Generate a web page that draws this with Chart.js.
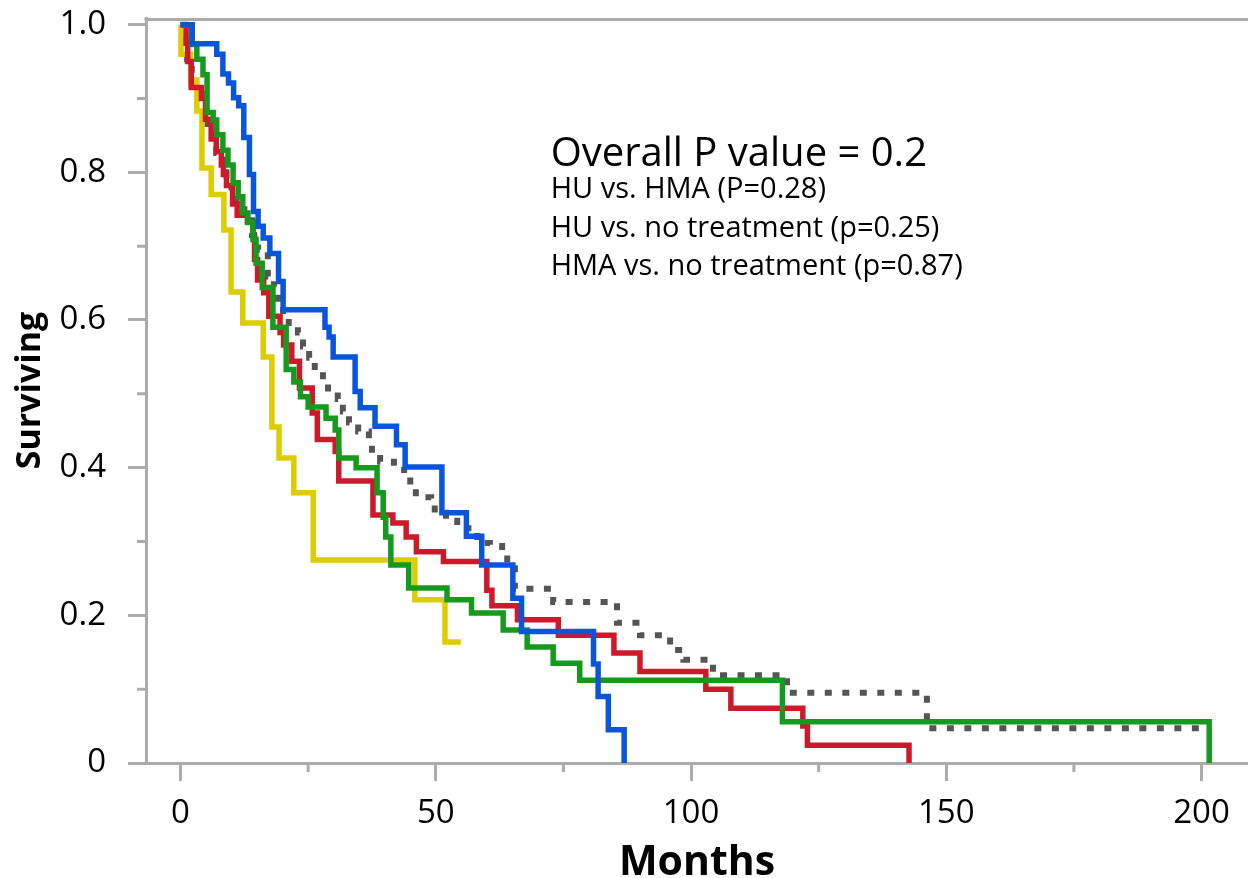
<!DOCTYPE html>
<html>
<head>
<meta charset="utf-8">
<title>Surviving vs Months</title>
<script src="https://cdn.jsdelivr.net/npm/chart.js@4.4.0/dist/chart.umd.min.js"></script>
<style>
    html, body { margin: 0; padding: 0; background: #fff; }
    canvas { display: block; }
</style>
</head>
<body>
<canvas id="km" width="1248" height="878"></canvas>
<script>
// courbes de survie (mois, proportion survivante)
const blueMonths = [0, 2.3, 7.1, 8.3, 9.4, 10.4, 11.4, 12.4, 13.5, 14.3, 15.2, 16.2, 17.5, 19.2, 20.1, 28.3, 29.1, 29.9, 34.2, 35.2, 38.1, 42.3, 44.0, 51.2, 56.0, 59.0, 65.1, 66.8, 80.9, 81.8, 83.8, 86.9];
const blueSurv = [1.0, 0.974, 0.96, 0.933, 0.921, 0.901, 0.89, 0.847, 0.797, 0.747, 0.727, 0.711, 0.69, 0.652, 0.614, 0.59, 0.577, 0.55, 0.503, 0.481, 0.456, 0.431, 0.401, 0.339, 0.307, 0.268, 0.223, 0.178, 0.134, 0.09, 0.045, 0];

const redMonths = [0, 1.1, 1.4, 2.1, 4.1, 4.9, 6.0, 7.0, 8.0, 8.4, 9.0, 10.2, 11.1, 13.1, 14.2, 14.5, 15.1, 16.3, 17.3, 19.5, 20.2, 21.8, 23.3, 25.8, 26.8, 30.3, 31.0, 37.7, 41.6, 44.2, 46.2, 51.5, 60.0, 61.0, 66.0, 74.0, 84.9, 90.0, 102.9, 107.8, 121.9, 122.8, 142.7];
const redSurv = [1.0, 0.975, 0.95, 0.915, 0.90, 0.872, 0.845, 0.828, 0.81, 0.797, 0.782, 0.757, 0.742, 0.733, 0.713, 0.682, 0.654, 0.637, 0.605, 0.583, 0.566, 0.544, 0.508, 0.474, 0.438, 0.422, 0.382, 0.336, 0.325, 0.306, 0.286, 0.273, 0.234, 0.213, 0.194, 0.173, 0.149, 0.124, 0.10, 0.074, 0.05, 0.024, 0];

const greenMonths = [0, 2.2, 3.2, 4.4, 5.2, 6.4, 7.1, 8.3, 9.3, 10.3, 11.3, 12.2, 13.2, 14.2, 14.8, 16.0, 18.1, 20.7, 22.2, 23.5, 25.0, 28.5, 30.3, 31.0, 34.4, 38.5, 39.7, 40.2, 41.2, 44.7, 52.2, 57.0, 63.2, 67.9, 73.0, 78.2, 117.9, 201.5];
const greenSurv = [1.0, 0.973, 0.953, 0.932, 0.881, 0.871, 0.851, 0.83, 0.81, 0.786, 0.767, 0.745, 0.732, 0.709, 0.677, 0.644, 0.59, 0.533, 0.516, 0.496, 0.482, 0.467, 0.451, 0.413, 0.40, 0.366, 0.333, 0.306, 0.268, 0.237, 0.221, 0.203, 0.18, 0.157, 0.135, 0.112, 0.056, 0];

const yellowMonths = [0, 0.1, 2.0, 3.2, 4.2, 6.0, 8.5, 9.9, 12.2, 16.2, 17.9, 19.3, 22.2, 26.0, 45.9, 51.8, 54.9];
const yellowSurv = [1.0, 0.96, 0.925, 0.883, 0.806, 0.77, 0.722, 0.638, 0.596, 0.55, 0.455, 0.413, 0.366, 0.275, 0.221, 0.164, 0.164];

const grayMonths = [0, 1.0, 1.3, 2.2, 4.2, 5.0, 5.3, 6.5, 7.0, 8.4, 9.0, 10.0, 11.0, 12.5, 14.0, 15.2, 17.1, 18.3, 19.1, 20.1, 21.2, 23.0, 24.0, 25.2, 26.3, 27.9, 28.9, 30.8, 31.8, 33.0, 34.8, 36.9, 37.5, 39.1, 41.8, 43.8, 45.0, 46.1, 49.1, 49.8, 52.0, 54.2, 58.1, 60.6, 63.0, 64.0, 65.5, 73.0, 85.5, 90.0, 95.9, 98.5, 104.3, 118.8, 146.2, 200.4];
const graySurv = [1.0, 0.975, 0.953, 0.92, 0.90, 0.87, 0.86, 0.84, 0.826, 0.80, 0.79, 0.77, 0.75, 0.735, 0.715, 0.695, 0.659, 0.645, 0.623, 0.607, 0.591, 0.583, 0.564, 0.549, 0.53, 0.519, 0.503, 0.493, 0.476, 0.461, 0.449, 0.438, 0.42, 0.408, 0.401, 0.39, 0.377, 0.36, 0.356, 0.339, 0.328, 0.318, 0.298, 0.294, 0.286, 0.271, 0.236, 0.218, 0.19, 0.173, 0.153, 0.14, 0.119, 0.095, 0.047, 0.047];

// graduations
const xTicks = [0, 50, 100, 150, 200];
const xMinorTicks = [25, 75, 125, 175];
const yTicks = [0, 0.2, 0.4, 0.6, 0.8, 1.0];
const yMinorTicks = [0.1, 0.3, 0.5, 0.7, 0.9];

const statTitle = 'Overall P value = 0.2';
const statLines = ['HU vs. HMA (P=0.28)', 'HU vs. no treatment (p=0.25)', 'HMA vs. no treatment (p=0.87)'];

const AXIS_COLOR = '#ababab';
const FONT = '"Open Sans", "Noto Sans", sans-serif';

const toPoints = (months, surv) => months.map((m, i) => ({ x: m, y: surv[i] }));

const makeDataset = (label, months, surv, color, dash) => ({
    label,
    data: toPoints(months, surv),
    borderColor: color,
    borderWidth: dash ? 6 : 5.5,
    borderDash: dash || [],
    borderCapStyle: 'butt',
    borderJoinStyle: 'miter',
    stepped: 'before',
    pointRadius: 0,
    fill: false
});

/**
 * petites graduations + bord du haut
 */
const minorTicksPlugin = {
    id: 'minorTicks',
    afterDraw(chart) {
        const { ctx, chartArea, scales } = chart;
        ctx.save();
        ctx.strokeStyle = AXIS_COLOR;
        ctx.lineWidth = 3;
        ctx.beginPath();
        xMinorTicks.forEach(v => {
            const px = scales.x.getPixelForValue(v);
            ctx.moveTo(px, chartArea.bottom);
            ctx.lineTo(px, chartArea.bottom + 9);
        });
        yMinorTicks.forEach(v => {
            const py = scales.y.getPixelForValue(v);
            ctx.moveTo(chartArea.left, py);
            ctx.lineTo(chartArea.left - 9, py);
        });
        // cadre du haut
        ctx.moveTo(chartArea.left - 1.5, chartArea.top + 1.5);
        ctx.lineTo(chartArea.right, chartArea.top + 1.5);
        ctx.stroke();
        ctx.restore();
    }
};

/**
 * texte des p-values
 */
const statsPlugin = {
    id: 'stats',
    afterDraw(chart) {
        const { ctx, scales } = chart;
        const x = scales.x.getPixelForValue(72.5);
        const y = scales.y.getPixelForValue(0.808);
        ctx.save();
        ctx.fillStyle = '#000';
        ctx.textAlign = 'left';
        ctx.textBaseline = 'alphabetic';
        ctx.font = '40px ' + FONT;
        ctx.fillText(statTitle, x, y);
        ctx.font = '29px ' + FONT;
        statLines.forEach((line, i) => {
            ctx.fillText(line, x, y + 32 + i * 38.3);
        });
        ctx.restore();
    }
};

new Chart(document.getElementById('km'), {
    type: 'line',
    data: {
        datasets: [
            makeDataset('blue', blueMonths, blueSurv, '#0a56da'),
            makeDataset('green', greenMonths, greenSurv, '#169a1e'),
            makeDataset('red', redMonths, redSurv, '#cc1a2b'),
            makeDataset('yellow', yellowMonths, yellowSurv, '#ddcc00'),
            makeDataset('gray', grayMonths, graySurv, '#555555', [7, 10.5])
        ]
    },
    options: {
        responsive: false,
        animation: false,
        layout: { padding: { top: 18, right: 0, bottom: 0, left: 0 } },
        plugins: {
            legend: { display: false },
            tooltip: { enabled: false }
        },
        scales: {
            x: {
                type: 'linear',
                min: -6.76,
                max: 209.1,
                afterBuildTicks: (scale) => { scale.ticks = xTicks.map(v => ({ value: v })); },
                afterFit: (scale) => {
                    scale.height = 115;
                    scale.paddingLeft = 0;
                    scale.paddingRight = 0;
                },
                grid: { drawOnChartArea: false, drawTicks: true, tickLength: 18, tickWidth: 3, tickColor: AXIS_COLOR },
                border: { color: AXIS_COLOR, width: 3 },
                ticks: { color: '#000', font: { family: FONT, size: 33 }, padding: 13, maxRotation: 0 },
                title: { display: true, text: 'Months', color: '#000', font: { family: FONT, size: 41, weight: 'bold' }, padding: { top: 0, bottom: -10 } }
            },
            y: {
                type: 'linear',
                min: 0,
                max: 1.009,
                afterBuildTicks: (scale) => { scale.ticks = yTicks.map(v => ({ value: v })); },
                afterFit: (scale) => {
                    scale.width = 146;
                    scale.paddingTop = 0;
                    scale.paddingBottom = 0;
                },
                grid: { drawOnChartArea: false, drawTicks: true, tickLength: 18, tickWidth: 3, tickColor: AXIS_COLOR },
                border: { color: AXIS_COLOR, width: 3 },
                ticks: {
                    color: '#000',
                    font: { family: FONT, size: 33 },
                    padding: 22,
                    callback: (v) => v === 0 ? '0' : v.toFixed(1)
                },
                title: { display: true, text: 'Surviving', color: '#000', font: { family: FONT, size: 34, weight: 'bold' }, padding: { top: 10, bottom: 0 } }
            }
        }
    },
    plugins: [minorTicksPlugin, statsPlugin]
});
</script>
</body>
</html>
